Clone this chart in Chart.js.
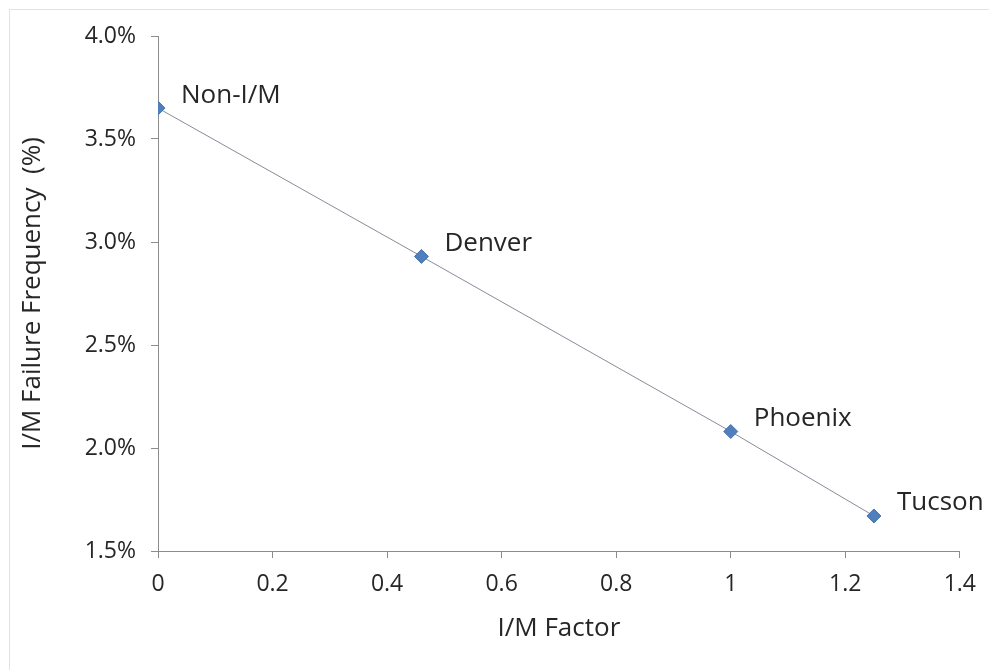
<!DOCTYPE html>
<html>
<head>
<meta charset="utf-8">
<script src="https://cdn.jsdelivr.net/npm/chart.js@4"></script>
<style>
  html, body { margin: 0; padding: 0; background: #fff; }
  #wrap { width: 989px; height: 670px; position: relative; }
</style>
</head>
<body>
<div id="wrap"><canvas id="chart" width="989" height="670"></canvas></div>
<script>
// data
const cities = ["Non-I/M", "Denver", "Phoenix", "Tucson"];
const imFactor = [0, 0.46, 1, 1.25];
const failFreq = [3.65, 2.93, 2.08, 1.67];
const xTicks = [0, 0.2, 0.4, 0.6, 0.8, 1, 1.2, 1.4];
const yTicks = [1.5, 2.0, 2.5, 3.0, 3.5, 4.0];

const FONT = "'Open Sans', sans-serif";
const AXIS_GREY = "#8c8c8c";
const TEXT = "#262626";

// faint frame round the whole chart, like the office export
const frame = {
  id: "frame",
  beforeDraw(chart) {
    const ctx = chart.ctx;
    ctx.save();
    ctx.strokeStyle = "#e2e2e2";
    ctx.lineWidth = 1;
    ctx.strokeRect(9.5, 9.5, chart.width, chart.height);
    ctx.restore();
  }
};

// names next to each point
const pointNames = {
  id: "pointNames",
  afterDatasetsDraw(chart) {
    const ctx = chart.ctx;
    const meta = chart.getDatasetMeta(0);
    ctx.save();
    ctx.font = "26px " + FONT;
    ctx.fillStyle = TEXT;
    ctx.textAlign = "left";
    ctx.textBaseline = "middle";
    meta.data.forEach((pt, i) => {
      ctx.fillText(cities[i], pt.x + 23, pt.y - 13);
    });
    ctx.restore();
  }
};

new Chart(document.getElementById("chart"), {
  type: "scatter",
  data: {
    datasets: [{
      data: imFactor.map((x, i) => ({ x: x, y: failFreq[i] })),
      showLine: true,
      borderColor: "#8a8a9a",
      borderWidth: 1,
      pointStyle: "rectRot",
      pointRadius: 7,
      pointHoverRadius: 7,
      pointBackgroundColor: "#4f7fbd",
      pointBorderColor: "#4a72a8",
      pointBorderWidth: 1
    }]
  },
  options: {
    responsive: false,
    animation: false,
    layout: { padding: { left: 0, right: 28, top: 36, bottom: 0 } },
    plugins: { legend: { display: false }, tooltip: { enabled: false } },
    scales: {
      x: {
        type: "linear",
        min: 0, max: 1.4,
        afterBuildTicks: (s) => { s.ticks = xTicks.map(v => ({ value: v })); },
        afterFit: (s) => { s.height = 119; },
        ticks: {
          font: { family: FONT, size: 23 },
          color: TEXT,
          padding: 13,
          maxRotation: 0,
          callback: (v) => String(Math.round(v * 10) / 10)
        },
        grid: { drawOnChartArea: false, drawTicks: true, tickLength: 7, color: AXIS_GREY },
        border: { color: AXIS_GREY, width: 1 },
        title: {
          display: true, text: "I/M Factor",
          font: { family: FONT, size: 26 }, color: TEXT,
          padding: { top: 0, bottom: 26 }
        }
      },
      y: {
        type: "linear",
        min: 1.5, max: 4.0,
        afterBuildTicks: (s) => { s.ticks = yTicks.map(v => ({ value: v })); },
        afterFit: (s) => { s.width = 158; },
        ticks: {
          font: { family: FONT, size: 23 },
          color: TEXT,
          padding: 15,
          callback: (v) => v.toFixed(1) + "%"
        },
        grid: { drawOnChartArea: false, drawTicks: true, tickLength: 7, color: AXIS_GREY },
        border: { color: AXIS_GREY, width: 1 },
        title: {
          display: true, text: "I/M Failure Frequency  (%)",
          font: { family: FONT, size: 26 }, color: TEXT,
          padding: { top: 17, bottom: 0 }
        }
      }
    }
  },
  plugins: [frame, pointNames]
});
</script>
</body>
</html>
